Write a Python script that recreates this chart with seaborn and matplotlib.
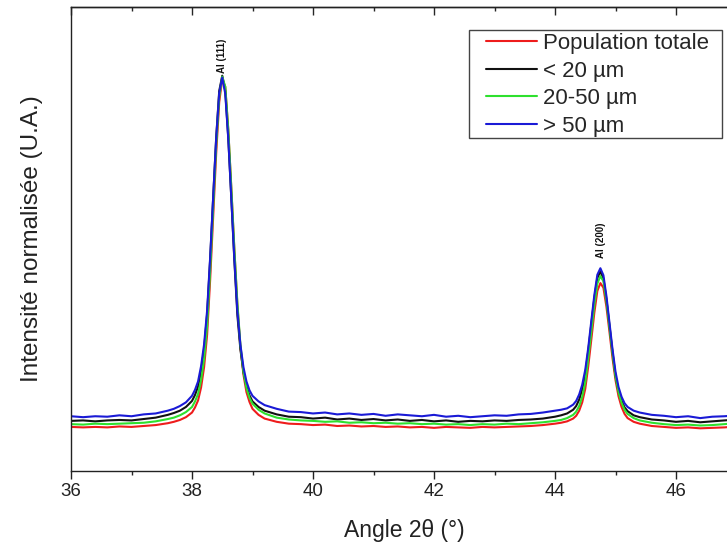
import seaborn as sns
import matplotlib.pyplot as plt
import pandas as pd
from matplotlib.lines import Line2D
from matplotlib.patches import Rectangle
from matplotlib.ticker import MultipleLocator

# angle 2theta (deg)
two_theta = [
    36.0, 36.2, 36.4, 36.6, 36.8, 37.0, 37.2, 37.4, 37.6, 37.7, 37.8, 37.9,
    38.0, 38.05, 38.1, 38.15, 38.2, 38.25, 38.3, 38.35, 38.4, 38.45, 38.5,
    38.55, 38.6, 38.65, 38.7, 38.75, 38.8, 38.85, 38.9, 38.95, 39.0,
    39.1, 39.2, 39.4, 39.6, 39.8, 40.0, 40.2, 40.4, 40.6, 40.8, 41.0, 41.2, 41.4,
    41.6, 41.8, 42.0, 42.2, 42.4, 42.6, 42.8, 43.0, 43.2, 43.4, 43.6, 43.8, 44.0,
    44.1, 44.2, 44.3, 44.35, 44.4, 44.45, 44.5, 44.55, 44.6, 44.65, 44.7, 44.75,
    44.8, 44.85, 44.9, 44.95, 45.0, 45.05, 45.1, 45.15, 45.2,
    45.3, 45.4, 45.6, 45.8, 46.0, 46.2, 46.4, 46.6, 46.8, 46.9,
]

# normalised intensities
pop_totale = [
    .095, .094, .095, .094, .096, .095, .097, .099, .103, .106, .110, .116,
    .126, .137, .152, .180, .224, .294, .412, .548, .685, .795, .845,
    .828, .735, .610, .478, .358, .268, .208, .170, .149, .134,
    .121, .113, .106, .102, .101, .099, .100, .097, .098, .096, .097, .095, .096,
    .094, .095, .093, .095, .094, .093, .095, .094, .095, .096, .097, .099, .102,
    .104, .107, .113, .119, .130, .148, .177, .226, .283, .341, .388, .405,
    .395, .354, .300, .244, .196, .161, .138, .123, .114,
    .106, .102, .097, .095, .093, .094, .092, .093, .094, .095,
]
moins_20 = [
    .108, .109, .107, .109, .110, .109, .112, .115, .121, .125, .130, .138,
    .151, .164, .182, .215, .263, .338, .456, .589, .719, .819, .852,
    .819, .717, .587, .454, .336, .262, .214, .182, .163, .150,
    .138, .130, .122, .117, .116, .113, .115, .111, .113, .110, .112, .109, .111,
    .108, .110, .107, .109, .106, .108, .107, .109, .108, .110, .111, .113, .117,
    .120, .124, .132, .140, .154, .176, .208, .259, .316, .372, .416, .430,
    .415, .370, .314, .257, .205, .172, .151, .137, .129,
    .120, .116, .111, .109, .106, .108, .105, .107, .109, .110,
]
entre_20_50 = [
    .101, .100, .102, .101, .102, .103, .104, .107, .112, .115, .120, .127,
    .138, .150, .166, .196, .242, .313, .432, .568, .702, .806, .850,
    .828, .735, .609, .478, .362, .272, .214, .179, .158, .145,
    .132, .124, .115, .111, .109, .108, .106, .107, .104, .105, .103, .104, .102,
    .103, .101, .102, .100, .101, .099, .101, .100, .102, .101, .103, .105, .108,
    .110, .114, .121, .128, .140, .160, .191, .243, .300, .358, .404, .420,
    .409, .366, .310, .254, .204, .170, .147, .132, .123,
    .114, .109, .104, .101, .099, .100, .098, .099, .101, .102,
]
plus_50 = [
    .118, .116, .118, .117, .120, .118, .122, .124, .130, .134, .140, .148,
    .162, .175, .193, .226, .273, .346, .460, .590, .717, .815, .848,
    .813, .715, .588, .458, .345, .272, .224, .193, .174, .162,
    .150, .142, .134, .128, .127, .124, .126, .122, .124, .121, .123, .119, .122,
    .120, .118, .121, .117, .119, .116, .118, .120, .119, .122, .123, .126, .130,
    .132, .135, .143, .151, .165, .186, .218, .266, .323, .379, .423, .437,
    .422, .377, .320, .263, .214, .181, .160, .146, .138,
    .130, .126, .121, .119, .116, .118, .114, .117, .118, .119,
]

series_names = ["Population totale", "< 20 µm", "20-50 µm", "> 50 µm"]
colors = ["#ee1c1c", "#111111", "#2ee02e", "#1a1ad6"]

peak_pos = [38.5, 44.76]
peak_top = [0.858, 0.459]
peak_labels = ["Al (111)", "Al (200)"]

sns.set_style("ticks")
plt.rcParams["font.family"] = ["Liberation Sans", "DejaVu Sans"]

df = pd.DataFrame({"2theta": two_theta,
                   series_names[0]: pop_totale,
                   series_names[1]: moins_20,
                   series_names[2]: entre_20_50,
                   series_names[3]: plus_50})
long = df.melt(id_vars="2theta", var_name="serie", value_name="I")

fig = plt.figure(figsize=(7.27, 5.45), dpi=100)
ax = fig.add_axes([71 / 727, 74 / 545, 660 / 727, 464 / 545])

sns.lineplot(data=long, x="2theta", y="I", hue="serie", hue_order=series_names,
             palette=colors, sort=False, estimator=None, linewidth=1.5,
             legend=False, ax=ax)

ax.set_xlim(36, 36 + 660 / 60.5)
ax.set_ylim(0, 1)
ax.xaxis.set_major_locator(MultipleLocator(2))
ax.xaxis.set_minor_locator(MultipleLocator(1))
ax.set_yticks([])
ax.tick_params(axis="x", which="major", direction="out", length=6, width=1,
               labelsize=13.5, colors="#222222", pad=3)
ax.tick_params(axis="x", which="minor", direction="out", length=3, width=1)
for s in ["left", "bottom", "top"]:
    ax.spines[s].set_color("#222222")
    ax.spines[s].set_linewidth(1.0)
ax.spines["right"].set_visible(False)

top = ax.secondary_xaxis("top")
top.xaxis.set_major_locator(MultipleLocator(2))
top.xaxis.set_minor_locator(MultipleLocator(1))
top.tick_params(which="major", direction="in", length=6, width=1, labeltop=False)
top.tick_params(which="minor", direction="in", length=3, width=1)
top.spines["top"].set_linewidth(1.0)

ax.set_xlabel("Angle 2θ (°)", fontsize=16.5, color="#222222")
ax.set_ylabel("Intensité normalisée (U.A.)", fontsize=17.5, color="#222222")
ax.xaxis.set_label_coords(0.5056, -0.104)
ax.yaxis.set_label_coords(-0.042, 0.5)

for xp, yp, lab in zip(peak_pos, peak_top, peak_labels):
    ax.text(xp, yp, lab, rotation=90, ha="center", va="bottom",
            fontsize=7, fontweight="bold", color="#111111")

# legend box drawn separately (wider left margin than the legend's own frame)
ax.add_patch(Rectangle((0.603, 0.718), 0.383, 0.232, transform=ax.transAxes,
                       facecolor="white", edgecolor="#444444", lw=1.0, zorder=4))
handles = [Line2D([0], [0], color=c, lw=1.5) for c in colors]
leg = ax.legend(handles, series_names, loc="upper left",
                bbox_to_anchor=(0.627, 0.946), borderaxespad=0,
                fontsize=16, frameon=False, handlelength=2.3,
                handletextpad=0.27, labelspacing=0.29, borderpad=0.05)
leg.set_zorder(5)

fig.savefig("out.png", dpi=100)
